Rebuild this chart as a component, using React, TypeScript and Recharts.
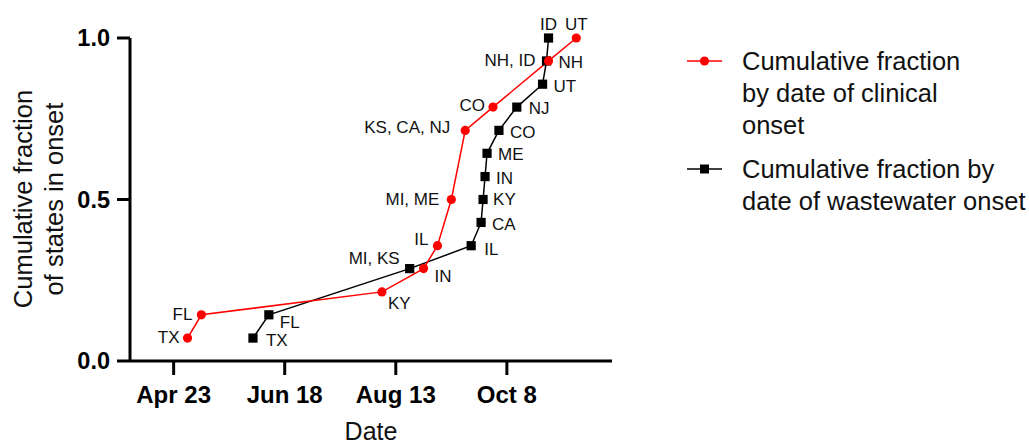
import React from "react";
import { ComposedChart, Line, XAxis, YAxis, LabelList, Label, Legend } from "recharts";

const MONTHS = ["Jan", "Feb", "Mar", "Apr", "May", "Jun", "Jul", "Aug", "Sep", "Oct", "Nov", "Dec"];

// clinical onset (red)
const clinicalDates = ["Apr 30", "May 7", "Aug 6", "Aug 27", "Sep 3", "Sep 10", "Sep 17", "Oct 1", "Oct 29", "Nov 12"];
const clinicalFraction = [0.071, 0.143, 0.214, 0.286, 0.357, 0.5, 0.714, 0.786, 0.929, 1.0];
const clinicalStates = ["TX", "FL", "KY", "IN", "IL", "MI, ME", "KS, CA, NJ", "CO", "NH, ID", "UT"];

// wastewater onset (black)
const wastewaterDates = ["Jun 2", "Jun 10", "Aug 20", "Sep 20", "Sep 25", "Sep 26", "Sep 27", "Sep 28", "Oct 4", "Oct 13", "Oct 26", "Oct 28", "Oct 29"];
const wastewaterFraction = [0.071, 0.143, 0.286, 0.357, 0.429, 0.5, 0.571, 0.643, 0.714, 0.786, 0.857, 0.929, 1.0];
const wastewaterStates = ["TX", "FL", "MI, KS", "IL", "CA", "KY", "IN", "ME", "CO", "NJ", "UT", "NH", "ID"];

const xTicks = ["Apr 23", "Jun 18", "Aug 13", "Oct 8"];
const xRange = ["Apr 1", "Nov 30"];
const yTicks = [0, 0.5, 1];

const FONT = "'Liberation Sans', Arial, Helvetica, sans-serif";
const RED = "#ff0000";
const BLACK = "#000000";

// days since Apr 1
function toDay(s: string) {
  const [mon, d] = s.split(" ");
  return (Date.UTC(2021, MONTHS.indexOf(mon), Number(d)) - Date.UTC(2021, 3, 1)) / 86400000;
}

const clinical = clinicalDates.map((d, i) => ({ day: toDay(d), frac: clinicalFraction[i], state: clinicalStates[i] }));
const wastewater = wastewaterDates.map((d, i) => ({ day: toDay(d), frac: wastewaterFraction[i], state: wastewaterStates[i] }));
const tickDays = xTicks.map(toDay);
const tickName: Record<number, string> = {};
xTicks.forEach((t) => (tickName[toDay(t)] = t));

// where each state label sits relative to its marker: [dx, dy, anchor]
const clinicalPlace: [number, number, string][] = [
  [-8, -1, "end"], [-9, -1, "end"], [6, 11, "start"], [11, 7, "start"], [-9, -7, "end"],
  [-12, 0, "end"], [-15, -3, "end"], [-8, -2, "end"], [-13, -1, "end"], [0, -14, "middle"],
];
const wastewaterPlace: [number, number, string][] = [
  [13, 2, "start"], [11, 7, "start"], [-10, -11, "end"], [13, 3, "start"], [11, 2, "start"],
  [10, 0, "start"], [11, 1, "start"], [11, 1, "start"], [11, 2, "start"], [12, 1, "start"],
  [11, 2, "start"], [12, 1, "start"], [0, -14, "middle"],
];

const legendItems = [
  { color: RED, shape: "circle", lines: ["Cumulative fraction", "by date of clinical", "onset"] },
  { color: BLACK, shape: "square", lines: ["Cumulative fraction by", "date of wastewater onset"] },
];

function makeLabel(place: [number, number, string][]) {
  return (props: any) => {
    const { index, value } = props;
    const vb = props.viewBox || {};
    const x = props.x ?? (vb.x + (vb.width || 0) / 2);
    const y = props.y ?? (vb.y + (vb.height || 0) / 2);
    const [dx, dy, anchor] = place[index] || [10, 0, "start"];
    return (
      <text x={x + dx} y={y + dy} dy="0.35em" textAnchor={anchor as any} fontSize={17} fontFamily={FONT} fill="#111">
        {value}
      </text>
    );
  };
}

const CircleDot = (props: any) => {
  const { cx, cy, index } = props;
  return <circle key={`c${index}`} cx={cx} cy={cy} r={4.6} fill={RED} />;
};

const SquareDot = (props: any) => {
  const { cx, cy, index } = props;
  return <rect key={`s${index}`} x={cx - 4.6} y={cy - 4.6} width={9.2} height={9.2} fill={BLACK} />;
};

const YTitle = () => (
  <g fontFamily={FONT} fontSize={25.5} fill="#111">
    <text transform="translate(32,199) rotate(-90)" textAnchor="middle">Cumulative fraction</text>
    <text transform="translate(63,199) rotate(-90)" textAnchor="middle">of states in onset</text>
  </g>
);

const LegendBox = () => (
  <div style={{ fontFamily: FONT, fontSize: 25.5, lineHeight: "32px", color: "#111" }}>
    {legendItems.map((item, i) => (
      <div key={i} style={{ display: "flex", marginTop: i ? 12 : 0 }}>
        <svg width={62} height={32} style={{ flex: "none" }}>
          <line x1={7} x2={42} y1={16} y2={16} stroke={item.color} strokeWidth={1.5} />
          {item.shape === "circle" ? (
            <circle cx={24.5} cy={16} r={4.6} fill={item.color} />
          ) : (
            <rect x={20} y={11.5} width={9} height={9} fill={item.color} />
          )}
        </svg>
        <div style={{ whiteSpace: "nowrap" }}>
          {item.lines.map((l, j) => (
            <div key={j}>{l}</div>
          ))}
        </div>
      </div>
    ))}
  </div>
);

export default function App() {
  const xTickStyle = { fontSize: 24, fontWeight: 700, fill: BLACK, fontFamily: FONT };
  const yTickStyle = { fontSize: 23.5, fontWeight: 700, fill: BLACK, fontFamily: FONT };
  return (
    <div style={{ position: "absolute", left: 0, top: 0, width: 1029, height: 444, background: "#fff" }}>
      <ComposedChart
        width={1029}
        height={444}
        margin={{ top: 38, right: 417, bottom: 0, left: 50 }}
        style={{ fontFamily: FONT }}
      >
        <XAxis
          type="number"
          dataKey="day"
          domain={[toDay(xRange[0]), toDay(xRange[1])]}
          ticks={tickDays}
          tickFormatter={(v: number) => tickName[v] ?? ""}
          height={83}
          tick={xTickStyle}
          tickSize={14}
          tickMargin={11}
          axisLine={{ stroke: BLACK, strokeWidth: 3 }}
          tickLine={{ stroke: BLACK, strokeWidth: 3 }}
          allowDataOverflow
        >
          <Label value="Date" position="insideBottom" offset={4} fontSize={25} fill="#111" fontFamily={FONT} />
        </XAxis>
        <YAxis
          type="number"
          domain={[0, 1]}
          ticks={yTicks}
          tickFormatter={(v: number) => v.toFixed(1)}
          width={80}
          tick={yTickStyle}
          tickSize={13}
          tickMargin={7}
          axisLine={{ stroke: BLACK, strokeWidth: 3 }}
          tickLine={{ stroke: BLACK, strokeWidth: 3 }}
        >
          <Label content={YTitle} />
        </YAxis>
        <Legend
          layout="vertical"
          align="center"
          verticalAlign="middle"
          wrapperStyle={{ left: 680, top: 45, width: 349, height: 180 }}
          content={LegendBox}
        />
        <Line
          data={wastewater}
          dataKey="frac"
          name="Cumulative fraction by date of wastewater onset"
          stroke={BLACK}
          strokeWidth={1.5}
          dot={SquareDot}
          activeDot={false}
          isAnimationActive={false}
        >
          <LabelList dataKey="state" content={makeLabel(wastewaterPlace)} />
        </Line>
        <Line
          data={clinical}
          dataKey="frac"
          name="Cumulative fraction by date of clinical onset"
          stroke={RED}
          strokeWidth={1.5}
          dot={CircleDot}
          activeDot={false}
          isAnimationActive={false}
        >
          <LabelList dataKey="state" content={makeLabel(clinicalPlace)} />
        </Line>
      </ComposedChart>
    </div>
  );
}
